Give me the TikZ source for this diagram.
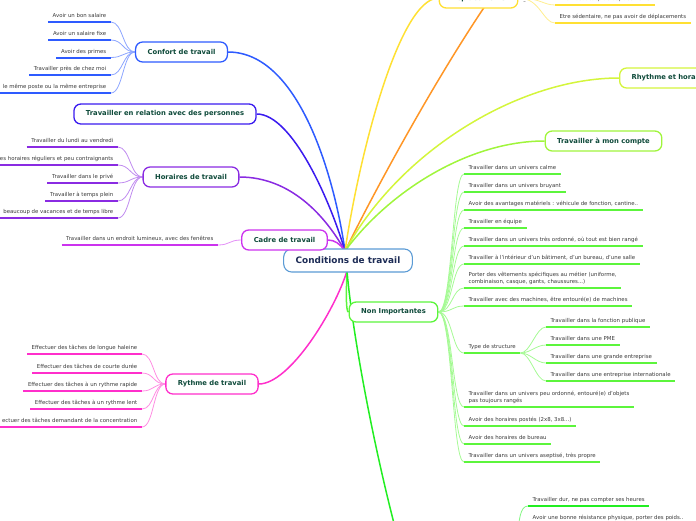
\documentclass[tikz,border=0pt]{standalone}
\usepackage{fontspec}
\setmainfont{DejaVu Sans}
\usepackage{tikz}
\usetikzlibrary{positioning, backgrounds, calc}
\usepackage{xcolor}
\definecolor{rootblue}{HTML}{5B9BD5}
\definecolor{rootnavy}{HTML}{1C2B55}
\definecolor{labgreen}{HTML}{0E4A3A}
\definecolor{leafgrey}{HTML}{3A3A3A}
\definecolor{cfblue}{HTML}{2E5BFF}
\definecolor{relindigo}{HTML}{3A1BEF}
\definecolor{horpurple}{HTML}{8A2BE2}
\definecolor{cadmagenta}{HTML}{CC33EE}
\definecolor{rytpink}{HTML}{FF2FCB}
\definecolor{depyellow}{HTML}{FFE033}
\definecolor{orangebr}{HTML}{FF9626}
\definecolor{rhylime}{HTML}{D4F53C}
\definecolor{comptegreen}{HTML}{A0F53C}
\definecolor{nongreen}{HTML}{5CF53C}
\definecolor{botgreen}{HTML}{22EE22}
\tikzset{
  rootbox/.style={rectangle, draw=rootblue, fill=white, line width=1.1,
                  rounded corners=8, minimum height=23, inner xsep=12,
                  font=\fontsize{8.9}{10}\selectfont\bfseries, text=rootnavy},
  branch/.style={rectangle, draw=#1, fill=white, line width=1.3,
                 rounded corners=7, minimum height=20, inner xsep=12,
                 font=\fontsize{6.8}{8}\selectfont\bfseries, text=labgreen},
  leaf/.style={inner xsep=4.5, inner ysep=3, text depth=1.3, align=left,
               font=\fontsize{5.4}{7.2}\selectfont, text=leafgrey,
               append after command={(\tikzlastnode.south west)
                 edge[draw=#1, line width=2] (\tikzlastnode.south east)}},
  trunk/.style={draw=#1, line width=1.5},
  twig/.style={draw=#1!55, line width=0.8},
}

\begin{document}
\begin{tikzpicture}[x=1pt, y=-1pt]
  \useasboundingbox (0,0) rectangle (696,520);

  % Centre
  \node[rootbox] (root) at (348,260.5) {Conditions de travail};
  \coordinate (hubN) at (345,251);
  \coordinate (hubS) at (347,271);

  % Left branches
  \node[branch=cfblue]     (conf) at (181.5,52)  {Confort de travail};
  \node[branch=relindigo]  (rel)  at (165,114)   {Travailler en relation avec des personnes};
  \node[branch=horpurple]  (hor)  at (191,177)   {Horaires de travail};
  \node[branch=cadmagenta] (cad)  at (284.5,240) {Cadre de travail};
  \node[branch=rytpink]    (ryt)  at (212,384)   {Rythme de travail};

  % Right branches
  \node[branch=depyellow]  (dep)    at (478.5,-2) {Déplacements};
  \node[branch=rhylime, anchor=west, text width=90, align=left]
                           (rhy)    at (619,78)   {Rhythme et hora};
  \node[branch=comptegreen] (cpt)   at (603.5,141) {Travailler à mon compte};
  \node[branch=nongreen]   (nonimp) at (393.5,312) {Non Importantes};
  \coordinate (oext) at (496,-10);
  \coordinate (bot)  at (397,535);
  \coordinate (botr) at (517,540);

  % Confort de travail
  \node[leaf=cfblue, anchor=south east] (c1) at (111,22)   {Avoir un bon salaire};
  \node[leaf=cfblue, anchor=south east] (c2) at (111,40)   {Avoir un salaire fixe};
  \node[leaf=cfblue, anchor=south east] (c3) at (111,57.5) {Avoir des primes};
  \node[leaf=cfblue, anchor=south east] (c4) at (111,75)   {Travailler près de chez moi};
  \node[leaf=cfblue, anchor=south east] (c5) at (111,93)   {le même poste ou la même entreprise};

  % Horaires de travail
  \node[leaf=horpurple, anchor=south east] (h1) at (118,147) {Travailler du lundi au vendredi};
  \node[leaf=horpurple, anchor=south east] (h2) at (118,165) {es horaires réguliers et peu contraignants};
  \node[leaf=horpurple, anchor=south east] (h3) at (118,183) {Travailler dans le privé};
  \node[leaf=horpurple, anchor=south east] (h4) at (118,201) {Travailler à temps plein};
  \node[leaf=horpurple, anchor=south east] (h5) at (118,218) {beaucoup de vacances et de temps libre};

  % Cadre de travail
  \node[leaf=cadmagenta, anchor=south east] (k1) at (218,245) {Travailler dans un endroit lumineux, avec des fenêtres};

  % Rythme de travail
  \node[leaf=rytpink, anchor=south east] (r1) at (142,354) {Effectuer des tâches de longue haleine};
  \node[leaf=rytpink, anchor=south east] (r2) at (142,373) {Effectuer des tâches de courte durée};
  \node[leaf=rytpink, anchor=south east] (r3) at (142,391) {Effectuer des tâches à un rythme rapide};
  \node[leaf=rytpink, anchor=south east] (r4) at (142,409) {Effectuer des tâches à un rythme lent};
  \node[leaf=rytpink, anchor=south east] (r5) at (142,427) {ectuer des tâches demandant de la concentration};

  % Deplacements
  \node[font=\fontsize{5}{6}\selectfont, text=leafgrey] (tog) at (524.5,3) {–};
  \node[leaf=depyellow, anchor=south west] (d1) at (555,5)  {Avoir beaucoup de déplacements};
  \node[leaf=depyellow, anchor=south west] (d2) at (555,23) {Etre sédentaire, ne pas avoir de déplacements};

  % Non importantes
  \node[leaf=nongreen, anchor=south west] (n1)  at (464,174) {Travailler dans un univers calme};
  \node[leaf=nongreen, anchor=south west] (n2)  at (464,192) {Travailler dans un univers bruyant};
  \node[leaf=nongreen, anchor=south west] (n3)  at (464,210) {Avoir des avantages matériels : véhicule de fonction, cantine..};
  \node[leaf=nongreen, anchor=south west] (n4)  at (464,228) {Travailler en équipe};
  \node[leaf=nongreen, anchor=south west] (n5)  at (464,246) {Travailler dans un univers très ordonné, où tout est bien rangé};
  \node[leaf=nongreen, anchor=south west] (n6)  at (464,264) {Travailler à l'intérieur d'un bâtiment, d'un bureau, d'une salle};
  \node[leaf=nongreen, anchor=south west] (n7)  at (464,288) {Porter des vêtements spécifiques au métier (uniforme,\\combinaison, casque, gants, chaussures...)};
  \node[leaf=nongreen, anchor=south west] (n8)  at (464,306) {Travailler avec des machines, être entouré(e) de machines};
  \node[leaf=nongreen, anchor=south west] (n9)  at (464,353) {Type de structure};
  \node[leaf=nongreen, anchor=south west] (n10) at (464,407) {Travailler dans un univers peu ordonné, entouré(e) d'objets\\pas toujours rangés};
  \node[leaf=nongreen, anchor=south west] (n11) at (464,426) {Avoir des horaires postés (2x8, 3x8...)};
  \node[leaf=nongreen, anchor=south west] (n12) at (464,444) {Avoir des horaires de bureau};
  \node[leaf=nongreen, anchor=south west] (n13) at (464,462) {Travailler dans un univers aseptisé, très propre};

  % Type de structure
  \node[leaf=nongreen, anchor=south west] (t1) at (546,327) {Travailler dans la fonction publique};
  \node[leaf=nongreen, anchor=south west] (t2) at (546,345) {Travailler dans une PME};
  \node[leaf=nongreen, anchor=south west] (t3) at (546,363) {Travailler dans une grande entreprise};
  \node[leaf=nongreen, anchor=south west] (t4) at (546,381) {Travailler dans une entreprise internationale};

  % bottom branch (cut off)
  \node[leaf=botgreen, anchor=south west] (b1) at (528,506) {Travailler dur, ne pas compter ses heures};
  \node[leaf=botgreen, anchor=south west] (b2) at (528,524) {Avoir une bonne résistance physique, porter des poids..};

  \begin{scope}[on background layer]
    % Trunks
    \draw[trunk=cfblue]      (conf.east) .. controls (300,52) and (335,180) .. (hubN);
    \draw[trunk=relindigo]   (rel.east) .. controls (292,114) and (330,200) .. (hubN);
    \draw[trunk=horpurple]   (hor.east) .. controls (290,177) and (325,215) .. (hubN);
    \draw[trunk=cadmagenta]  (cad.east) .. controls (335,240) and (340,244) .. (hubN);
    \draw[trunk=rytpink]     (ryt.east) .. controls (290,384) and (335,310) .. (hubS);
    \draw[trunk=depyellow]   (dep.west) .. controls (400,-2) and (360,150) .. (hubN);
    \draw[trunk=orangebr]    (hubN) .. controls (375,190) and (440,70) .. (oext);
    \draw[trunk=rhylime]     (rhy.west) .. controls (520,78) and (400,150) .. (hubN);
    \draw[trunk=comptegreen] (cpt.west) .. controls (470,141) and (390,190) .. (hubN);
    \draw[trunk=nongreen]    (hubS) .. controls (346,295) and (346,312) .. (nonimp.west);
    \draw[trunk=botgreen]    (hubS) .. controls (352,330) and (372,440) .. (bot);

    % Twigs
    \foreach \n in {c1,c2,c3,c4,c5}
      \draw[twig=cfblue] (conf.west) .. controls +(-12,0) and +(12,0) .. (\n.south east);
    \foreach \n in {h1,h2,h3,h4,h5}
      \draw[twig=horpurple] (hor.west) .. controls +(-12,0) and +(12,0) .. (\n.south east);
    \draw[twig=cadmagenta] (cad.west) .. controls +(-12,0) and +(12,0) .. (k1.south east);
    \foreach \n in {r1,r2,r3,r4,r5}
      \draw[twig=rytpink] (ryt.west) .. controls +(-12,0) and +(12,0) .. (\n.south east);
    \foreach \n in {d1,d2}
      \draw[twig=depyellow] (dep.east) .. controls +(22,0) and +(-12,0) .. (\n.south west);
    \foreach \n in {n1,n2,n3,n4,n5,n6,n7,n8,n9,n10,n11,n12,n13}
      \draw[twig=nongreen] (nonimp.east) .. controls +(14,0) and +(-12,0) .. (\n.south west);
    \foreach \n in {t1,t2,t3,t4}
      \draw[twig=nongreen] (n9.south east) .. controls +(10,0) and +(-10,0) .. (\n.south west);
    \foreach \n in {b1,b2}
      \draw[twig=botgreen] (botr) .. controls +(2,-20) and +(-8,0) .. (\n.south west);
  \end{scope}
\end{tikzpicture}
\end{document}
